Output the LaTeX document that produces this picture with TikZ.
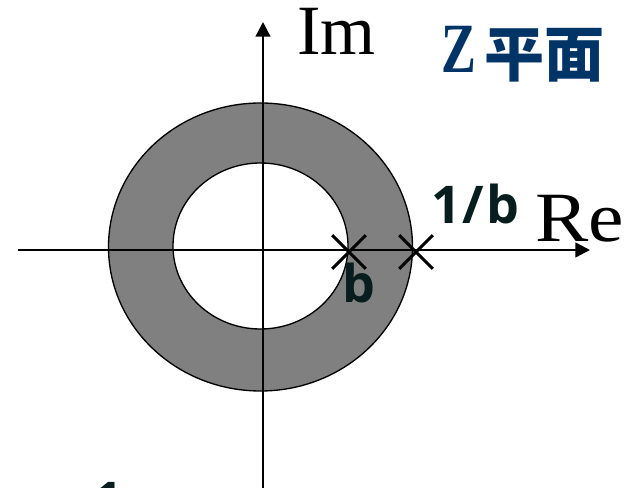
\documentclass[tikz,border=0pt]{standalone}
\usepackage{fontspec}
\usepackage{xcolor}
\usepackage{tikz}
\usetikzlibrary{positioning, shapes.misc, arrows.meta}
\newfontfamily\romanfont{Liberation Serif}
\newfontfamily\labelfont{Open Sans}[LetterSpace=4]
\newfontfamily\cjkfont{Noto Sans CJK SC}
\definecolor{zblue}{RGB}{0,51,102}
\definecolor{labdark}{RGB}{8,30,30}
\definecolor{ringgray}{RGB}{128,128,128}

\begin{document}
\begin{tikzpicture}[x=0.75pt, y=-0.75pt,
          every node/.style={inner sep=0pt},
          axis/.style={line width=1.8pt, -{Triangle[length=11pt, width=11pt]}},
          ring/.style={draw=black, line width=1pt},
          pole/.style={cross out, draw, line width=2.3pt, minimum size=23pt},
          romanlab/.style={font=\romanfont\fontsize{53}{60}\selectfont},
          smalllab/.style={font=\labelfont\bfseries\fontsize{39}{44}\selectfont, text=labdark}]
          \useasboundingbox (0,0) rectangle (640,488);
          \clip (0,0) rectangle (640,488);

          \fill[ringgray, even odd rule] (260.5,247) ellipse [x radius=152, y radius=144]
                (260.5,246) ellipse [x radius=87.5, y radius=83];
          \draw[ring] (260.5,247) ellipse [x radius=152, y radius=144];
          \draw[ring] (260.5,246) ellipse [x radius=87.5, y radius=83];

          \coordinate (re0) at (18,250);
          \coordinate (re1) at (590,250);
          \coordinate (im0) at (263,495);
          \coordinate (im1) at (263,22);
          \draw[axis] (re0) -- (re1);
          \draw[axis] (im0) -- (im1);

          \node[pole] (zb) at (349,252) {};
          \node[pole] (zinvb) at (416,252) {};

          \node[romanlab, anchor=base west] (im) at (297,55) {Im};
          \node[romanlab, anchor=base west, xscale=1.13] (re) at (535,242) {Re};
          \node[anchor=base west, text=zblue, xscale=0.74,
                font=\romanfont\bfseries\fontsize{53}{58}\selectfont] (zletter) at (441,73) {Z};
          \node[anchor=base west, text=zblue,
                font=\cjkfont\bfseries\fontsize{45}{50}\selectfont] (plane) at (484,77) {平面};
          \node[smalllab, anchor=base west] (binv) at (431,224) {1/b};
          \node[smalllab, anchor=base west] (b) at (342,303) {b};
          \node[smalllab, anchor=base west] (cut) at (93,520) {1};
        \end{tikzpicture}
\end{document}
